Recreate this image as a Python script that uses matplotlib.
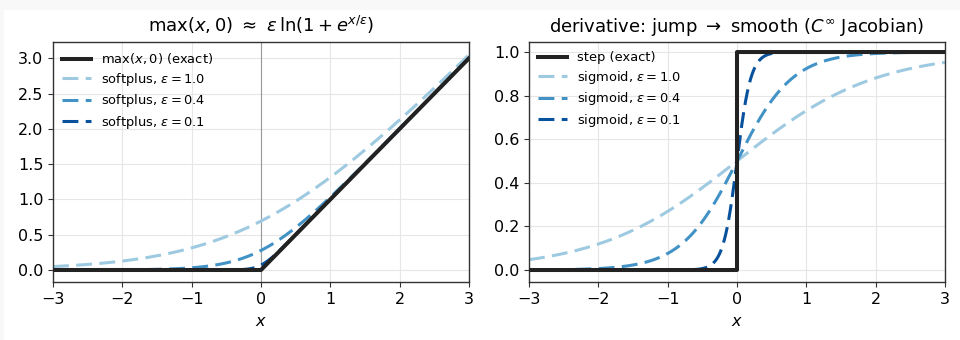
import numpy as np
import matplotlib
matplotlib.use("Agg")
import matplotlib.pyplot as plt
from matplotlib.patches import Rectangle

# smoothing widths and their line colours
epsilons = [1.0, 0.4, 0.1]
eps_colors = ["#9ecae1", "#4292c6", "#08519c"]
x_range = (-3.0, 3.0)
left_yticks = [0.0, 0.5, 1.0, 1.5, 2.0, 2.5, 3.0]
right_yticks = [0.0, 0.2, 0.4, 0.6, 0.8, 1.0]
xticks = [-3, -2, -1, 0, 1, 2, 3]

x = np.linspace(x_range[0], x_range[1], 1201)


def softplus(x, eps):
    return eps * np.logaddexp(0.0, x / eps)


def sigmoid(x, eps):
    return 1.0 / (1.0 + np.exp(-x / eps))


plt.rcParams["font.family"] = ["DejaVu Sans"]
fig = plt.figure(figsize=(9.6, 3.4), dpi=100, facecolor="#f8f8f8")
fig.patches.append(Rectangle((4 / 960, 0), 1, 1 - 10 / 340, transform=fig.transFigure,
                             facecolor="white", edgecolor="none", zorder=-10))

ax1 = fig.add_axes([53 / 960, 1 - 282 / 340, 416 / 960, 240 / 340])
ax2 = fig.add_axes([529 / 960, 1 - 282 / 340, 416 / 960, 240 / 340])

dash = (0, (5.2, 2.4))

# left: ReLU and its softplus smoothings
ax1.axvline(0, color="#999999", lw=0.8, zorder=1)
ax1.plot(x, np.maximum(x, 0), color="#222222", lw=2.9, label=r"$\max(x,0)$ (exact)", zorder=3)
for eps, c in zip(epsilons, eps_colors):
    ax1.plot(x, softplus(x, eps), color=c, lw=2.2, ls=dash,
             label=rf"softplus, $\varepsilon={eps}$", zorder=2)
ax1.set_title(r"$\max(x,0)\ \approx\ \varepsilon\,\ln(1+e^{x/\varepsilon})$", fontsize=13, pad=7)
ax1.set_xlim(*x_range)
ax1.set_ylim(-0.17, 3.23)
ax1.set_yticks(left_yticks)

# right: derivative, step versus sigmoid
step_y = np.where(x < 0, 0.0, 1.0)
ax2.plot(x, step_y, color="#222222", lw=2.9, label="step (exact)", zorder=3, drawstyle="steps-post")
for eps, c in zip(epsilons, eps_colors):
    ax2.plot(x, sigmoid(x, eps), color=c, lw=2.2, ls=dash,
             label=rf"sigmoid, $\varepsilon={eps}$", zorder=2)
ax2.set_title(r"derivative: jump $\rightarrow$ smooth ($C^\infty$ Jacobian)", fontsize=13, pad=7)
ax2.set_xlim(*x_range)
ax2.set_ylim(-0.055, 1.046)
ax2.set_yticks(right_yticks)

for ax in (ax1, ax2):
    ax.set_xticks(xticks)
    ax.set_xlabel(r"$x$", fontsize=11.5, labelpad=5)
    ax.grid(True, color="#e6e6e6", lw=0.8, zorder=0)
    ax.set_axisbelow(True)
    ax.tick_params(labelsize=11.5, color="#333333")
    for s in ax.spines.values():
        s.set_color("#333333")
        s.set_linewidth(1.0)
    ax.legend(loc="upper left", fontsize=9.4, frameon=False, handlelength=2.2,
              borderaxespad=0.3, labelspacing=0.35, handletextpad=0.8)

fig.savefig("out.png", dpi=100, facecolor=fig.get_facecolor())
